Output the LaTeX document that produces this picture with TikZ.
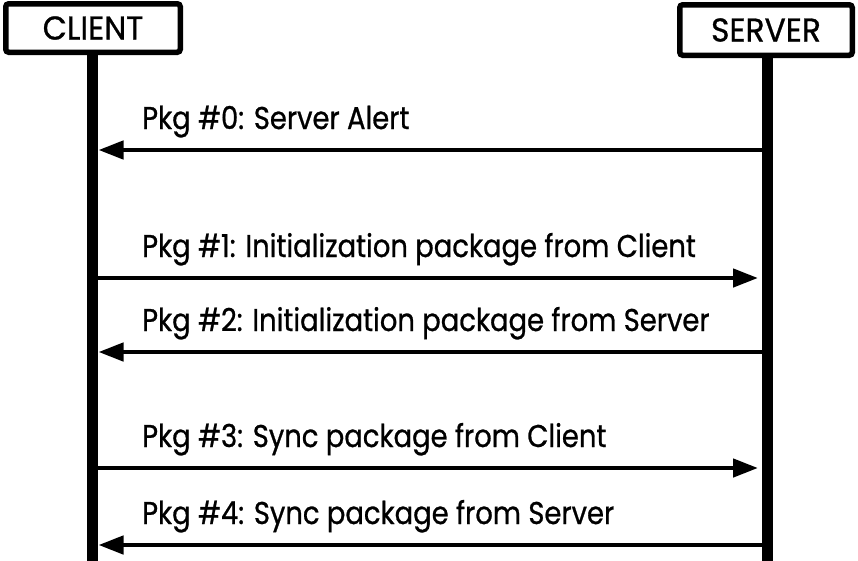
\documentclass[tikz,border=0pt]{standalone}
\usepackage{fontspec}
\setmainfont{Poppins}
\newfontfamily\headfont[FakeStretch=0.95,FakeBold=0.8]{Poppins}
\newfontfamily\labelfont[FakeStretch=0.87,FakeBold=0.8]{Poppins}
\usetikzlibrary{arrows.meta}
\begin{document}
\begin{tikzpicture}[x=1pt,y=-1pt,
  actor/.style={draw, line width=5.5pt, rounded corners=3pt, fill=white,
    inner sep=0pt, font=\headfont\fontsize{33}{33}\selectfont},
  lifeline/.style={line width=11pt},
  msg/.style={line width=4.5pt, -{Triangle[length=25pt,width=18pt]}},
  lbl/.style={anchor=base west, inner sep=0pt, font=\labelfont\fontsize{31.5}{31.5}\selectfont}]
\useasboundingbox (0,0) rectangle (858,560);
% participants
\node[actor, minimum width=174.5pt, minimum height=48.5pt] (cli) at (93,28) {CLIENT};
\node[actor, minimum width=172.5pt, minimum height=50.5pt] (srv) at (766,30) {SERVER};
\coordinate (cend) at (92.5,562);
\coordinate (send) at (767,562);
\draw[lifeline] (cli.south -| cend) -- (cend);
\draw[lifeline] (srv.south -| send) -- (send);
% message endpoints on the lifelines
\foreach \i/\y in {0/150,1/278,2/352,3/468,4/545}{
  \coordinate (c\i) at (92.5,\y);
  \coordinate (s\i) at (767,\y);
}
% messages
\draw[msg, shorten >=6pt] (s0) -- (c0);
\draw[msg, shorten >=9pt] (c1) -- (s1);
\draw[msg, shorten >=6pt] (s2) -- (c2);
\draw[msg, shorten >=9pt] (c3) -- (s3);
\draw[msg, shorten >=6pt] (s4) -- (c4);
% labels
\node[lbl] (l0) at (142,129) {Pkg \#0: Server Alert};
\node[lbl] (l1) at (142,257) {Pkg \#1: Initialization package from Client};
\node[lbl] (l2) at (142,331) {Pkg \#2: Initialization package from Server};
\node[lbl] (l3) at (142,447) {Pkg \#3: Sync package from Client};
\node[lbl] (l4) at (142,524) {Pkg \#4: Sync package from Server};
\end{tikzpicture}
\end{document}
